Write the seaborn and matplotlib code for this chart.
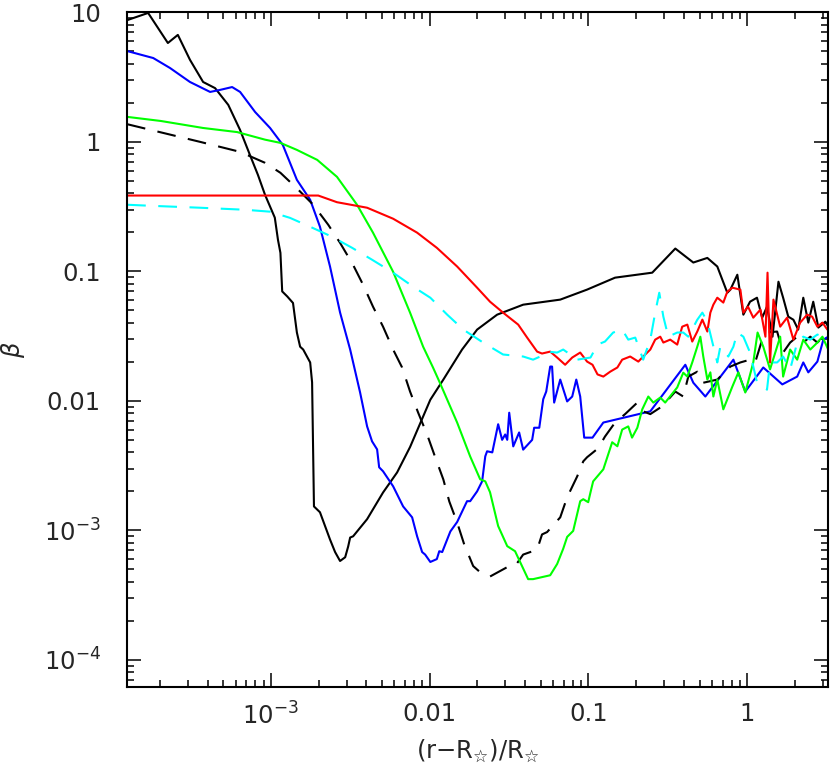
import matplotlib
matplotlib.use("Agg")
import matplotlib.pyplot as plt
import matplotlib.ticker as mticker
import seaborn as sns
import pandas as pd

# ---- data ----
bs_x = [1.245e-4, 1.69e-4, 2.25e-4, 2.6e-4, 3.1e-4, 3.75e-4, 4.46e-4, 5.4e-4, 6.4e-4, 7.4e-4, 8.3e-4, 9.2e-4,
        1.06e-3, 1.11e-3, 1.15e-3, 1.18e-3, 1.27e-3, 1.38e-3, 1.46e-3, 1.53e-3, 1.6e-3, 1.77e-3, 1.82e-3, 1.87e-3,
        2.04e-3, 2.36e-3, 2.54e-3, 2.73e-3, 2.94e-3, 3.07e-3, 3.16e-3, 3.3e-3, 4.04e-3, 5.09e-3, 6.24e-3, 7.53e-3,
        1.01e-2, 1.22e-2, 1.6e-2, 1.99e-2, 2.66e-2, 3.88e-2, 6.64e-2, 9.8e-2, 0.147, 0.252, 0.352, 0.457, 0.560,
        0.647, 0.748, 0.782, 0.865, 0.944, 1.04, 1.15, 1.24, 1.33, 1.44, 1.57, 1.68, 1.81, 1.95, 2.09, 2.25, 2.42,
        2.60, 2.80, 3.10, 3.23]
bs_y = [8.7, 9.9, 5.8, 6.7, 4.3, 2.9, 2.6, 1.93, 1.24, 0.79, 0.556, 0.39, 0.26, 0.175, 0.139, 0.070, 0.064, 0.057,
        0.0337, 0.0262, 0.0249, 0.0198, 0.0139, 1.53e-3, 1.38e-3, 8.5e-4, 6.8e-4, 5.8e-4, 6.2e-4, 7.5e-4, 8.8e-4,
        9.0e-4, 1.22e-3, 1.96e-3, 2.8e-3, 4.4e-3, 0.0102, 0.0146, 0.0249, 0.0355, 0.0463, 0.0553, 0.0605, 0.0723,
        0.0894, 0.0977, 0.150, 0.117, 0.127, 0.109, 0.0684, 0.0722, 0.0942, 0.0463, 0.0583, 0.0626, 0.0439, 0.0534,
        0.0313, 0.0832, 0.0626, 0.0447, 0.0423, 0.0355, 0.0626, 0.0402, 0.0583, 0.0368, 0.0409, 0.0374]

bl_x = [1.245e-4, 1.82e-4, 2.32e-4, 3.1e-4, 4.15e-4, 4.8e-4, 5.71e-4, 6.41e-4, 7.97e-4, 9.9e-4, 1.19e-3, 1.46e-3,
        1.77e-3, 2.04e-3, 2.36e-3, 2.73e-3, 3.16e-3, 3.65e-3, 4.04e-3, 4.34e-3, 4.67e-3, 4.81e-3, 5.09e-3, 5.89e-3,
        6.81e-3, 7.76e-3, 8.34e-3, 8.97e-3, 9.37e-3, 1.01e-2, 1.11e-2, 1.15e-2, 1.2e-2, 1.35e-2, 1.49e-2, 1.72e-2,
        1.8e-2, 1.99e-2, 2.14e-2, 2.24e-2, 2.30e-2, 2.48e-2, 2.7e-2, 2.86e-2, 2.99e-2, 3.08e-2, 3.17e-2, 3.36e-2,
        3.66e-2, 3.88e-2, 4.42e-2, 4.55e-2, 4.9e-2, 5.19e-2, 5.42e-2, 5.74e-2, 5.9e-2, 6.08e-2, 6.64e-2, 7.34e-2,
        7.9e-2, 8.38e-2, 8.87e-2, 9.4e-2, 0.106, 0.124, 0.245, 0.407, 0.457, 0.544, 0.817, 0.971, 1.26, 1.66, 2.06,
        2.25, 2.42, 2.76, 3.01, 3.23]
bl_y = [5.03, 4.44, 3.72, 2.90, 2.43, 2.52, 2.65, 2.43, 1.70, 1.28, 0.948, 0.509, 0.357, 0.221, 0.109, 0.0481,
        0.0249, 0.0116, 6.35e-3, 4.87e-3, 4.22e-3, 3.07e-3, 2.86e-3, 2.19e-3, 1.53e-3, 1.26e-3, 9.0e-4, 6.8e-4,
        6.5e-4, 5.7e-4, 6.0e-4, 6.9e-4, 6.8e-4, 9.8e-4, 1.16e-3, 1.68e-3, 1.68e-3, 2.0e-3, 2.39e-3, 3.73e-3, 4.08e-3,
        4.0e-3, 6.6e-3, 5.0e-3, 5.5e-3, 5.0e-3, 8.1e-3, 4.45e-3, 5.7e-3, 4.2e-3, 5.0e-3, 6.2e-3, 6.2e-3, 0.0103,
        0.0118, 0.0184, 0.0184, 9.7e-3, 0.0146, 9.9e-3, 0.0108, 0.0146, 0.0108, 5.2e-3, 5.2e-3, 6.8e-3, 8.3e-3,
        0.019, 0.0138, 0.0108, 0.0208, 0.0118, 0.0181, 0.0134, 0.0154, 0.0198, 0.0166, 0.0201, 0.0297, 0.0313]

gr_x = [1.245e-4, 2.03e-4, 3.75e-4, 6.14e-4, 9.2e-4, 1.15e-3, 1.46e-3, 1.96e-3, 2.61e-3, 3.49e-3, 4.4e-3, 5.89e-3,
        7.53e-3, 9.1e-3, 1.05e-2, 1.16e-2, 1.49e-2, 1.8e-2, 2.08e-2, 2.24e-2, 2.4e-2, 2.7e-2, 3.08e-2, 3.45e-2,
        4.17e-2, 4.48e-2, 5.74e-2, 6.35e-2, 6.93e-2, 7.34e-2, 8.01e-2, 8.87e-2, 9.27e-2, 9.96e-2, 0.103, 0.107,
        0.114, 0.124, 0.141, 0.152, 0.163, 0.178, 0.188, 0.203, 0.218, 0.238, 0.256, 0.283, 0.304, 0.362, 0.395,
        0.419, 0.450, 0.484, 0.506, 0.528, 0.560, 0.585, 0.611, 0.647, 0.706, 0.805, 0.878, 0.971, 1.09, 1.16, 1.26,
        1.39, 1.61, 1.68, 1.86, 2.06, 2.25, 2.49, 2.76, 2.97, 3.23]
gr_y = [1.56, 1.45, 1.28, 1.19, 1.04, 0.982, 0.867, 0.726, 0.537, 0.327, 0.199, 0.0993, 0.048, 0.0262, 0.0181,
        0.0138, 6.8e-3, 3.72e-3, 2.48e-3, 2.39e-3, 1.97e-3, 1.08e-3, 7.55e-4, 6.9e-4, 4.2e-4, 4.2e-4, 4.5e-4, 5.5e-4,
        7.2e-4, 8.9e-4, 9.9e-4, 1.68e-3, 1.74e-3, 1.65e-3, 1.97e-3, 2.39e-3, 2.62e-3, 2.96e-3, 4.79e-3, 4.46e-3,
        6.0e-3, 6.35e-3, 5.2e-3, 6.2e-3, 8.6e-3, 0.0108, 9.7e-3, 0.0106, 9.7e-3, 0.0127, 0.0165, 0.0154, 0.0198,
        0.0262, 0.0313, 0.022, 0.0146, 0.0166, 0.0108, 0.0146, 8.6e-3, 0.0129, 0.0166, 0.0116, 0.0198, 0.0337,
        0.0262, 0.0175, 0.0313, 0.0154, 0.0249, 0.0208, 0.0297, 0.0249, 0.0282, 0.0313, 0.0249]

rd_x = [1.245e-4, 1.99e-3, 2.61e-3, 4.04e-3, 5.89e-3, 8.34e-3, 1.11e-2, 1.49e-2, 1.99e-2, 2.4e-2, 2.9e-2, 3.61e-2,
        4.11e-2, 4.75e-2, 5.1e-2, 5.74e-2, 6.35e-2, 7.13e-2, 7.9e-2, 8.87e-2, 9.8e-2, 0.106, 0.114, 0.124, 0.137,
        0.152, 0.163, 0.183, 0.206, 0.221, 0.245, 0.263, 0.283, 0.296, 0.327, 0.362, 0.389, 0.419, 0.450, 0.484,
        0.521, 0.560, 0.585, 0.611, 0.647, 0.706, 0.748, 0.805, 0.904, 0.944, 1.01, 1.09, 1.21, 1.30, 1.34, 1.39,
        1.46, 1.61, 1.78, 1.95, 2.15, 2.38, 2.56, 2.76, 2.97, 3.19]
rd_y = [0.385, 0.385, 0.342, 0.310, 0.255, 0.199, 0.152, 0.109, 0.0748, 0.0583, 0.048, 0.0388, 0.0308, 0.0240,
        0.0232, 0.0240, 0.0216, 0.019, 0.0216, 0.0236, 0.0201, 0.019, 0.016, 0.0154, 0.0168, 0.0181, 0.0208, 0.022,
        0.0201, 0.022, 0.0249, 0.0297, 0.0313, 0.0282, 0.0297, 0.0272, 0.0374, 0.0388, 0.0287, 0.0343, 0.0424,
        0.0343, 0.048, 0.0553, 0.0626, 0.0574, 0.0697, 0.0748, 0.0722, 0.048, 0.0534, 0.0439, 0.0507, 0.0313,
        0.0977, 0.0198, 0.0605, 0.0374, 0.0439, 0.0297, 0.0402, 0.0463, 0.0447, 0.0374, 0.0402, 0.0355]

bd_x = [1.245e-4, 1.74e-4, 3.59e-4, 6.41e-4, 9.2e-4, 1.15e-3, 1.49e-3, 1.85e-3, 2.3e-3, 2.73e-3, 3.3e-3, 3.81e-3,
        4.4e-3, 5.09e-3, 5.89e-3, 6.71e-3, 7.53e-3, 8.47e-3, 9.64e-3, 1.08e-2, 1.22e-2, 1.33e-2, 1.49e-2, 1.65e-2,
        1.88e-2, 2.08e-2, 2.24e-2, 2.4e-2, 3.08e-2, 3.45e-2, 3.88e-2, 4.75e-2, 5.1e-2, 5.49e-2, 6.64e-2, 7.34e-2,
        8.49e-2, 9.27e-2, 9.8e-2, 0.115, 0.127, 0.147, 0.170, 0.203, 0.221, 0.245, 0.292, 0.352, 0.395, 0.425,
        0.484, 0.528, 0.647, 0.782, 0.904, 1.04, 1.12, 1.24, 1.33, 1.54, 1.68, 1.86, 2.06, 2.25, 2.49, 2.76, 3.01]
bd_y = [1.37, 1.24, 1.0, 0.837, 0.689, 0.577, 0.427, 0.327, 0.229, 0.166, 0.112, 0.0789, 0.0534, 0.0374, 0.0249,
        0.0181, 0.0118, 8.1e-3, 5.5e-3, 3.72e-3, 2.47e-3, 1.67e-3, 1.15e-3, 7.8e-4, 5.3e-4, 4.75e-4, 4.6e-4, 4.4e-4,
        5.2e-4, 5.3e-4, 6.5e-4, 7.1e-4, 9.3e-4, 9.7e-4, 1.26e-3, 1.8e-3, 2.61e-3, 3.41e-3, 3.67e-3, 4.3e-3, 5.3e-3,
        6.8e-3, 7.9e-3, 9.7e-3, 8.3e-3, 7.9e-3, 9.1e-3, 0.0118, 0.0108, 0.0154, 0.0168, 0.0138, 0.0146, 0.0184,
        0.0198, 0.0208, 0.0198, 0.0297, 0.0337, 0.0343, 0.0236, 0.0282, 0.0313, 0.0282, 0.0313, 0.0282, 0.0313]

cy_x = [1.245e-4, 1.74e-4, 3.59e-4, 6.89e-4, 9.9e-4, 1.32e-3, 1.77e-3, 2.43e-3, 3.25e-3, 4.34e-3, 5.89e-3, 7.87e-3,
        1.01e-2, 1.29e-2, 1.63e-2, 2.17e-2, 2.9e-2, 3.88e-2, 4.48e-2, 4.97e-2, 5.49e-2, 6.35e-2, 6.93e-2, 7.68e-2,
        8.49e-2, 0.103, 0.114, 0.127, 0.143, 0.163, 0.178, 0.197, 0.221, 0.245, 0.263, 0.279, 0.296, 0.318, 0.362,
        0.395, 0.425, 0.484, 0.521, 0.560, 0.647, 0.676, 0.759, 0.817, 0.865, 0.944, 1.04, 1.15, 1.33, 1.39, 1.54,
        1.68, 1.86, 2.06, 2.25, 2.49, 2.76, 3.01, 3.19]
cy_y = [0.327, 0.321, 0.310, 0.299, 0.289, 0.259, 0.221, 0.185, 0.152, 0.123, 0.0977, 0.0762, 0.0626, 0.0463,
        0.0355, 0.0282, 0.0228, 0.022, 0.0208, 0.022, 0.0240, 0.0236, 0.0249, 0.0228, 0.0208, 0.0216, 0.0272,
        0.0287, 0.0337, 0.0355, 0.0297, 0.0308, 0.0208, 0.0297, 0.048, 0.0684, 0.0447, 0.0313, 0.0337, 0.0337,
        0.0313, 0.0423, 0.048, 0.0409, 0.0198, 0.0262, 0.022, 0.0262, 0.0337, 0.0313, 0.0236, 0.0139, 0.0122,
        0.0198, 0.0198, 0.022, 0.0175, 0.0282, 0.0313, 0.0297, 0.0325, 0.0313, 0.0337]

x_ticks = [1e-3, 1e-2, 1e-1, 1]
x_tick_labels = [r"$10^{-3}$", "0.01", "0.1", "1"]
y_ticks = [1e-4, 1e-3, 1e-2, 1e-1, 1, 10]
y_tick_labels = [r"$10^{-4}$", r"$10^{-3}$", "0.01", "0.1", "1", "10"]

# ---- style ----
sns.set_style("ticks")
plt.rcParams["font.family"] = ["DejaVu Sans"]
plt.rcParams["mathtext.fontset"] = "dejavusans"

fig = plt.figure(figsize=(8.3, 7.73), dpi=100)
ax = fig.add_axes([0.1534, 0.1116, 0.8442, 0.8724])
ax.set_xscale("log")
ax.set_yscale("log")

series = [
    (bs_x, bs_y, "black", "-"),
    (bl_x, bl_y, "#0000ff", "-"),
    (bd_x, bd_y, "black", (0, (9, 6))),
    (gr_x, gr_y, "#00ff00", "-"),
    (rd_x, rd_y, "#ff0000", "-"),
    (cy_x, cy_y, "#00ffff", (0, (9, 6))),
]
for xs, ys, col, ls in series:
    df = pd.DataFrame({"x": xs, "y": ys})
    sns.lineplot(data=df, x="x", y="y", ax=ax, color=col, sort=False, estimator=None,
                 linewidth=1.5, linestyle=ls)

ax.set_xlim(1.25e-4, 3.22)
ax.set_ylim(6.2e-5, 10)

ax.xaxis.set_major_locator(mticker.FixedLocator(x_ticks))
ax.xaxis.set_major_formatter(mticker.FixedFormatter(x_tick_labels))
ax.yaxis.set_major_locator(mticker.FixedLocator(y_ticks))
ax.yaxis.set_major_formatter(mticker.FixedFormatter(y_tick_labels))
ax.xaxis.set_minor_locator(mticker.LogLocator(base=10, subs=range(2, 10), numticks=20))
ax.yaxis.set_minor_locator(mticker.LogLocator(base=10, subs=range(2, 10), numticks=20))
ax.xaxis.set_minor_formatter(mticker.NullFormatter())
ax.yaxis.set_minor_formatter(mticker.NullFormatter())

ax.tick_params(which="both", direction="in", top=True, right=True, color="black", width=1.1)
ax.tick_params(which="major", length=10)
ax.tick_params(which="minor", length=5)
ax.tick_params(axis="x", which="major", labelsize=17.5, pad=11)
ax.tick_params(axis="y", which="major", labelsize=17.5, pad=19)

for sp in ax.spines.values():
    sp.set_linewidth(1.5)
    sp.set_color("black")

ax.set_xlabel(r"(r$-$R$_{☆}$)/R$_{☆}$", fontsize=17.5, labelpad=6)
ax.set_ylabel(r"$\beta$", fontsize=17.5, labelpad=12)

fig.savefig("out.png", dpi=100)
